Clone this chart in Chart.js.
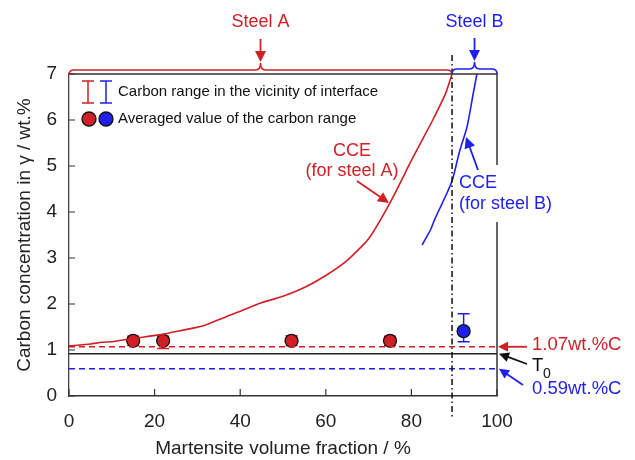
<!DOCTYPE html>
<html><head><meta charset="utf-8">
<script src="https://cdn.jsdelivr.net/npm/chart.js@4/dist/chart.umd.min.js"></script>
<style>html,body{margin:0;padding:0;background:#fff}#wrap{width:635px;height:460px}</style>
</head><body><div id="wrap"><canvas id="c" width="635" height="460"></canvas></div>
<script>
const xTicks = [0, 20, 40, 60, 80, 100];
const yTicks = [0, 1, 2, 3, 4, 5, 6, 7];
const cceA_x = [0, 5, 7.8, 10, 15, 21.8, 26, 31.2, 36.6, 40, 44.4, 50, 55, 60, 65, 70, 75, 80, 83, 85, 88, 89.5];
const cceA_y = [1.09, 1.13, 1.17, 1.18, 1.25, 1.34, 1.42, 1.52, 1.72, 1.84, 2.01, 2.17, 2.36, 2.62, 2.95, 3.42, 4.2, 5.12, 5.65, 6.0, 6.58, 7.0];
const cceB_x = [82.5, 83.5, 84.5, 85.5, 87, 88.5, 89.6, 91.2, 93, 94.3, 95.3];
const cceB_y = [3.28, 3.45, 3.62, 3.85, 4.15, 4.45, 4.7, 5.3, 5.85, 6.5, 7.0];
const redPts_x = [15, 22, 52, 75];
const redPts_y = [1.2, 1.2, 1.2, 1.2];
const redPts_low = [1.1, 1.03, 1.1, 1.1];
const redPts_high = [1.3, 1.3, 1.31, 1.3];
const bluePts_x = [92.2];
const bluePts_y = [1.41];
const bluePts_low = [1.18];
const bluePts_high = [1.79];
const levelRed = 1.07;   // 1.07 wt.%C
const levelT0 = 0.92;    // T0
const levelBlue = 0.59;  // 0.59 wt.%C
const interfaceX = 89.5;

const RED = '#d11f26', BLUE = '#1f1fef', FONT = '"Liberation Sans", Arial, sans-serif';

function pts(xs, ys) { return xs.map((x, i) => ({x, y: ys[i]})); }

function arrow(ctx, x1, y1, x2, y2, color, head) {
  head = head || 9;
  const a = Math.atan2(y2 - y1, x2 - x1);
  ctx.save();
  ctx.strokeStyle = color; ctx.fillStyle = color; ctx.lineWidth = 1.8;
  ctx.beginPath(); ctx.moveTo(x1, y1);
  ctx.lineTo(x2 - Math.cos(a) * head * 0.8, y2 - Math.sin(a) * head * 0.8); ctx.stroke();
  ctx.beginPath(); ctx.moveTo(x2, y2);
  ctx.lineTo(x2 - head * Math.cos(a) + head * 0.5 * Math.sin(a), y2 - head * Math.sin(a) - head * 0.5 * Math.cos(a));
  ctx.lineTo(x2 - head * Math.cos(a) - head * 0.5 * Math.sin(a), y2 - head * Math.sin(a) + head * 0.5 * Math.cos(a));
  ctx.closePath(); ctx.fill();
  ctx.restore();
}

function brace(ctx, x1, x2, yLine, color) {
  const xm = (x1 + x2) / 2, yEnd = yLine + 5, yTip = yLine - 7, r = 5;
  ctx.save(); ctx.strokeStyle = color; ctx.lineWidth = 1.6;
  ctx.beginPath();
  ctx.moveTo(x1, yEnd);
  ctx.quadraticCurveTo(x1, yLine, x1 + r, yLine);
  ctx.lineTo(xm - r, yLine);
  ctx.quadraticCurveTo(xm, yLine, xm, yTip);
  ctx.quadraticCurveTo(xm, yLine, xm + r, yLine);
  ctx.lineTo(x2 - r, yLine);
  ctx.quadraticCurveTo(x2, yLine, x2, yEnd);
  ctx.stroke(); ctx.restore();
}

function errBar(ctx, x, yl, yh, color) {
  ctx.save(); ctx.strokeStyle = color; ctx.lineWidth = 1.5;
  ctx.beginPath();
  ctx.moveTo(x, yl); ctx.lineTo(x, yh);
  ctx.moveTo(x - 6, yl); ctx.lineTo(x + 6, yl);
  ctx.moveTo(x - 6, yh); ctx.lineTo(x + 6, yh);
  ctx.stroke(); ctx.restore();
}

const deco = {
  id: 'deco',
  beforeDatasetsDraw(chart) {
    const ctx = chart.ctx, xs = chart.scales.x, ys = chart.scales.y;
    redPts_x.forEach((x, i) => errBar(ctx, xs.getPixelForValue(x), ys.getPixelForValue(redPts_low[i]), ys.getPixelForValue(redPts_high[i]), RED));
    bluePts_x.forEach((x, i) => errBar(ctx, xs.getPixelForValue(x), ys.getPixelForValue(bluePts_low[i]), ys.getPixelForValue(bluePts_high[i]), BLUE));
  },
  afterDraw(chart) {
    const ctx = chart.ctx, xs = chart.scales.x, ys = chart.scales.y, ca = chart.chartArea;
    ctx.save();
    // frame top/right
    ctx.strokeStyle = '#333'; ctx.lineWidth = 1.5;
    ctx.beginPath();
    ctx.moveTo(ca.left, ca.top); ctx.lineTo(ca.right, ca.top); ctx.lineTo(ca.right, ca.bottom);
    ctx.stroke();
    // inward ticks
    ctx.lineWidth = 1.2; ctx.strokeStyle = '#333';
    ctx.beginPath();
    xTicks.forEach(t => { const px = xs.getPixelForValue(t); ctx.moveTo(px, ca.bottom); ctx.lineTo(px, ca.bottom - 7); });
    yTicks.forEach(t => { const py = ys.getPixelForValue(t); ctx.moveTo(ca.left, py); ctx.lineTo(ca.left + 6, py); });
    ctx.stroke();
    // interface dash-dot line
    const ix = xs.getPixelForValue(interfaceX);
    ctx.strokeStyle = '#111'; ctx.lineWidth = 1.5; ctx.setLineDash([6, 3, 1.5, 3]);
    ctx.beginPath(); ctx.moveTo(ix, 55); ctx.lineTo(ix, 418); ctx.stroke();
    ctx.setLineDash([]);

    // braces and labels
    const x0 = xs.getPixelForValue(0), x100 = xs.getPixelForValue(100);
    brace(ctx, x0, ix, 70, RED);
    brace(ctx, ix, x100, 69, BLUE);
    const amid = (x0 + ix) / 2, bmid = (ix + x100) / 2;
    arrow(ctx, amid, 39, amid, 62, RED, 11);
    arrow(ctx, bmid, 38, bmid, 61, BLUE, 11);
    ctx.font = '18px ' + FONT; ctx.textAlign = 'center'; ctx.textBaseline = 'middle';
    ctx.fillStyle = RED; ctx.fillText('Steel A', amid, 22);
    ctx.fillStyle = BLUE; ctx.fillText('Steel B', bmid, 22);

    // legend
    errBar(ctx, 88, 81, 103, RED);
    errBar(ctx, 106, 81, 103, BLUE);
    ctx.lineWidth = 1.3;
    [[89, RED], [106, BLUE]].forEach(([cx, c]) => {
      ctx.beginPath(); ctx.arc(cx, 119, 7, 0, Math.PI * 2); ctx.fillStyle = c; ctx.fill();
      ctx.strokeStyle = '#111'; ctx.stroke();
    });
    ctx.font = '15px ' + FONT; ctx.textAlign = 'left'; ctx.fillStyle = '#111';
    ctx.fillText('Carbon range in the vicinity of interface', 118, 92);
    ctx.fillText('Averaged value of the carbon range', 118, 119);

    // CCE labels
    ctx.font = '18px ' + FONT; ctx.textAlign = 'center'; ctx.fillStyle = RED;
    ctx.fillText('CCE', 352, 151);
    ctx.fillText('(for steel A)', 352, 171);
    arrow(ctx, 357, 181, 389, 203, RED, 11);
    ctx.textAlign = 'left';
    ctx.fillStyle = '#fff'; ctx.fillRect(491, 165, 12, 57);
    ctx.fillStyle = BLUE;
    ctx.fillText('CCE', 459, 183);
    ctx.fillText('(for steel B)', 459, 204);
    arrow(ctx, 478, 170, 466, 137, BLUE, 11);

    // right annotations
    ctx.font = '18.5px ' + FONT;
    arrow(ctx, 527, ys.getPixelForValue(levelRed), 498, ys.getPixelForValue(levelRed), RED, 10);
    ctx.fillStyle = RED; ctx.fillText('1.07wt.%C', 532, 345);
    arrow(ctx, 527, 364, 499, ys.getPixelForValue(levelT0), '#111', 10);
    ctx.fillStyle = '#111'; ctx.fillText('T', 532, 366);
    ctx.font = '14px ' + FONT; ctx.fillText('0', 543, 374);
    ctx.font = '18.5px ' + FONT;
    arrow(ctx, 523, 385, 499, ys.getPixelForValue(levelBlue), BLUE, 10);
    ctx.fillStyle = BLUE; ctx.fillText('0.59wt.%C', 532, 389);
    ctx.restore();
  }
};

new Chart(document.getElementById('c'), {
  type: 'scatter',
  data: {
    datasets: [
      {data: pts(cceA_x, cceA_y), showLine: true, borderColor: RED, borderWidth: 1.6, pointRadius: 0, tension: 0.2},
      {data: pts(cceB_x, cceB_y), showLine: true, borderColor: BLUE, borderWidth: 1.6, pointRadius: 0, tension: 0.2},
      {data: [{x: 0, y: levelRed}, {x: 100, y: levelRed}], showLine: true, borderColor: RED, borderWidth: 1.5, borderDash: [6, 4], pointRadius: 0},
      {data: [{x: 0, y: levelT0}, {x: 100, y: levelT0}], showLine: true, borderColor: '#222', borderWidth: 1.6, pointRadius: 0},
      {data: [{x: 0, y: levelBlue}, {x: 100, y: levelBlue}], showLine: true, borderColor: BLUE, borderWidth: 1.5, borderDash: [6, 4], pointRadius: 0},
      {data: pts(redPts_x, redPts_y), pointRadius: 6.5, pointBackgroundColor: RED, pointBorderColor: '#111', pointBorderWidth: 1.3},
      {data: pts(bluePts_x, bluePts_y), pointRadius: 6.5, pointBackgroundColor: BLUE, pointBorderColor: '#111', pointBorderWidth: 1.3}
    ]
  },
  options: {
    responsive: false, animation: false, devicePixelRatio: 1,
    layout: {padding: {left: 0, bottom: 0, top: 74, right: 138}},
    plugins: {legend: {display: false}, tooltip: {enabled: false}},
    scales: {
      x: {
        type: 'linear', min: 0, max: 100,
        afterBuildTicks: s => { s.ticks = xTicks.map(v => ({value: v})); },
        afterFit: s => { s.height = 64; },
        grid: {display: false, drawTicks: false}, border: {display: true, color: '#333', width: 1.5},
        ticks: {padding: 14, color: '#222', font: {family: FONT, size: 19}},
        title: {display: true, text: 'Martensite volume fraction / %', color: '#222', font: {family: FONT, size: 19}, padding: {top: 0, bottom: 0}}
      },
      y: {
        type: 'linear', min: 0, max: 7,
        afterBuildTicks: s => { s.ticks = yTicks.map(v => ({value: v})); },
        afterFit: s => { s.width = 69; },
        grid: {display: false, drawTicks: false}, border: {display: true, color: '#444', width: 1.3},
        ticks: {padding: 12, color: '#222', font: {family: FONT, size: 19}},
        title: {display: true, text: 'Carbon concentration in γ / wt.%', color: '#222', font: {family: FONT, size: 19}, padding: {top: 13, bottom: 0}}
      }
    }
  },
  plugins: [deco]
});
</script>
</body></html>
